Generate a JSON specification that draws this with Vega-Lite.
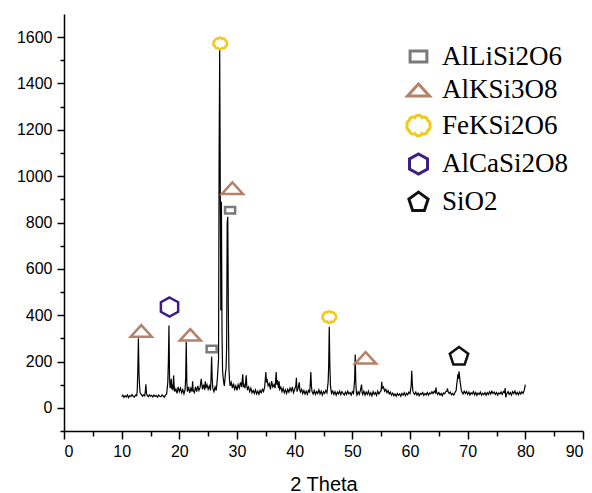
{
  "$schema": "https://vega.github.io/schema/vega-lite/v6.json",
  "width": 519,
  "height": 417,
  "autosize": {"type": "none"},
  "padding": {"left": 64, "top": 14, "right": 9, "bottom": 62},
  "background": "white",
  "config": {
    "view": {"stroke": null},
    "axis": {"grid": false, "domainColor": "black", "tickColor": "black", "labelColor": "black", "titleColor": "black", "labelFont": "Liberation Sans", "titleFont": "Liberation Sans"},
    "legend": {"labelFont": "Liberation Serif", "labelFontSize": 27, "labelColor": "black", "symbolSize": 576, "symbolStrokeWidth": 3, "symbolFillColor": "transparent"}
  },
  "datasets": {
    "pattern": [
      {"t":10.0,"c":48},{"t":10.2,"c":55},{"t":10.4,"c":45},{"t":10.6,"c":52},{"t":10.8,"c":47},{"t":11.0,"c":56},{"t":11.2,"c":44},{"t":11.4,"c":53},{"t":11.6,"c":49},{"t":11.8,"c":57},{"t":12.0,"c":50},{"t":12.2,"c":46},{"t":12.4,"c":55},{"t":12.6,"c":52},{"t":12.7,"c":75},{"t":12.8,"c":160},{"t":12.9,"c":300},{"t":13.0,"c":150},{"t":13.1,"c":95},{"t":13.2,"c":65},{"t":13.4,"c":58},{"t":13.6,"c":50},{"t":13.8,"c":56},{"t":14.0,"c":52},{"t":14.1,"c":70},{"t":14.2,"c":102},{"t":14.3,"c":62},{"t":14.4,"c":55},{"t":14.6,"c":48},{"t":14.8,"c":56},{"t":15.0,"c":50},{"t":15.2,"c":54},{"t":15.4,"c":47},{"t":15.6,"c":55},{"t":15.8,"c":49},{"t":16.0,"c":53},{"t":16.2,"c":46},{"t":16.4,"c":55},{"t":16.6,"c":50},{"t":16.8,"c":48},{"t":17.0,"c":56},{"t":17.2,"c":51},{"t":17.4,"c":46},{"t":17.6,"c":55},{"t":17.8,"c":60},{"t":17.9,"c":85},{"t":18.0,"c":110},{"t":18.1,"c":200},{"t":18.2,"c":355},{"t":18.3,"c":130},{"t":18.4,"c":85},{"t":18.5,"c":95},{"t":18.6,"c":125},{"t":18.7,"c":80},{"t":18.8,"c":100},{"t":18.9,"c":75},{"t":19.0,"c":140},{"t":19.1,"c":95},{"t":19.2,"c":70},{"t":19.4,"c":82},{"t":19.6,"c":62},{"t":19.8,"c":90},{"t":20.0,"c":70},{"t":20.2,"c":85},{"t":20.4,"c":65},{"t":20.6,"c":78},{"t":20.8,"c":60},{"t":21.0,"c":80},{"t":21.1,"c":130},{"t":21.2,"c":285},{"t":21.3,"c":110},{"t":21.4,"c":70},{"t":21.6,"c":90},{"t":21.8,"c":65},{"t":22.0,"c":85},{"t":22.2,"c":70},{"t":22.3,"c":115},{"t":22.4,"c":75},{"t":22.6,"c":65},{"t":22.8,"c":90},{"t":23.0,"c":70},{"t":23.2,"c":95},{"t":23.4,"c":75},{"t":23.6,"c":88},{"t":23.8,"c":125},{"t":24.0,"c":80},{"t":24.2,"c":100},{"t":24.4,"c":78},{"t":24.5,"c":115},{"t":24.6,"c":85},{"t":24.8,"c":100},{"t":25.0,"c":80},{"t":25.2,"c":95},{"t":25.4,"c":75},{"t":25.5,"c":130},{"t":25.6,"c":220},{"t":25.7,"c":125},{"t":25.8,"c":85},{"t":26.0,"c":70},{"t":26.2,"c":90},{"t":26.4,"c":75},{"t":26.5,"c":100},{"t":26.6,"c":130},{"t":26.7,"c":170},{"t":26.8,"c":210},{"t":26.9,"c":1100},{"t":27.0,"c":1545},{"t":27.1,"c":950},{"t":27.2,"c":420},{"t":27.3,"c":890},{"t":27.4,"c":330},{"t":27.5,"c":160},{"t":27.6,"c":130},{"t":27.7,"c":110},{"t":27.8,"c":95},{"t":27.9,"c":120},{"t":28.0,"c":150},{"t":28.1,"c":170},{"t":28.2,"c":260},{"t":28.3,"c":800},{"t":28.4,"c":825},{"t":28.5,"c":420},{"t":28.6,"c":170},{"t":28.7,"c":120},{"t":28.8,"c":95},{"t":29.0,"c":110},{"t":29.2,"c":85},{"t":29.4,"c":105},{"t":29.6,"c":80},{"t":29.8,"c":95},{"t":30.0,"c":75},{"t":30.2,"c":100},{"t":30.4,"c":85},{"t":30.6,"c":110},{"t":30.8,"c":90},{"t":31.0,"c":145},{"t":31.1,"c":95},{"t":31.2,"c":100},{"t":31.4,"c":85},{"t":31.6,"c":140},{"t":31.7,"c":95},{"t":31.8,"c":80},{"t":32.0,"c":90},{"t":32.2,"c":70},{"t":32.4,"c":85},{"t":32.6,"c":65},{"t":32.8,"c":75},{"t":33.0,"c":62},{"t":33.2,"c":78},{"t":33.4,"c":60},{"t":33.6,"c":72},{"t":33.8,"c":58},{"t":34.0,"c":75},{"t":34.2,"c":65},{"t":34.4,"c":80},{"t":34.6,"c":70},{"t":34.8,"c":90},{"t":35.0,"c":155},{"t":35.1,"c":110},{"t":35.2,"c":125},{"t":35.4,"c":95},{"t":35.6,"c":105},{"t":35.8,"c":80},{"t":36.0,"c":115},{"t":36.2,"c":90},{"t":36.4,"c":100},{"t":36.6,"c":85},{"t":36.8,"c":155},{"t":36.9,"c":100},{"t":37.0,"c":120},{"t":37.2,"c":85},{"t":37.3,"c":115},{"t":37.4,"c":80},{"t":37.6,"c":90},{"t":37.8,"c":70},{"t":38.0,"c":85},{"t":38.2,"c":65},{"t":38.4,"c":78},{"t":38.6,"c":62},{"t":38.8,"c":80},{"t":39.0,"c":68},{"t":39.2,"c":85},{"t":39.4,"c":72},{"t":39.6,"c":90},{"t":39.8,"c":65},{"t":40.0,"c":80},{"t":40.2,"c":95},{"t":40.3,"c":130},{"t":40.4,"c":70},{"t":40.6,"c":85},{"t":40.8,"c":110},{"t":40.9,"c":75},{"t":41.0,"c":68},{"t":41.2,"c":80},{"t":41.4,"c":62},{"t":41.6,"c":75},{"t":41.8,"c":60},{"t":42.0,"c":72},{"t":42.2,"c":58},{"t":42.4,"c":75},{"t":42.6,"c":68},{"t":42.7,"c":100},{"t":42.8,"c":155},{"t":42.9,"c":95},{"t":43.0,"c":72},{"t":43.2,"c":60},{"t":43.4,"c":75},{"t":43.6,"c":58},{"t":43.8,"c":70},{"t":44.0,"c":62},{"t":44.2,"c":78},{"t":44.4,"c":60},{"t":44.6,"c":72},{"t":44.8,"c":55},{"t":45.0,"c":70},{"t":45.2,"c":62},{"t":45.4,"c":75},{"t":45.6,"c":65},{"t":45.8,"c":110},{"t":45.9,"c":180},{"t":46.0,"c":350},{"t":46.1,"c":185},{"t":46.2,"c":100},{"t":46.3,"c":75},{"t":46.4,"c":62},{"t":46.6,"c":72},{"t":46.8,"c":58},{"t":47.0,"c":70},{"t":47.2,"c":55},{"t":47.4,"c":68},{"t":47.6,"c":60},{"t":47.8,"c":72},{"t":48.0,"c":57},{"t":48.2,"c":70},{"t":48.4,"c":62},{"t":48.6,"c":55},{"t":48.8,"c":68},{"t":49.0,"c":58},{"t":49.2,"c":72},{"t":49.4,"c":60},{"t":49.6,"c":66},{"t":49.8,"c":55},{"t":50.0,"c":70},{"t":50.2,"c":62},{"t":50.4,"c":120},{"t":50.5,"c":230},{"t":50.6,"c":110},{"t":50.7,"c":65},{"t":50.8,"c":55},{"t":51.0,"c":70},{"t":51.2,"c":58},{"t":51.4,"c":75},{"t":51.6,"c":100},{"t":51.7,"c":65},{"t":51.8,"c":58},{"t":52.0,"c":72},{"t":52.2,"c":55},{"t":52.4,"c":68},{"t":52.6,"c":58},{"t":52.8,"c":72},{"t":53.0,"c":55},{"t":53.2,"c":65},{"t":53.4,"c":52},{"t":53.6,"c":70},{"t":53.8,"c":58},{"t":54.0,"c":66},{"t":54.2,"c":54},{"t":54.4,"c":72},{"t":54.6,"c":60},{"t":54.8,"c":68},{"t":55.0,"c":75},{"t":55.1,"c":112},{"t":55.2,"c":85},{"t":55.4,"c":90},{"t":55.6,"c":72},{"t":55.8,"c":80},{"t":56.0,"c":65},{"t":56.2,"c":75},{"t":56.4,"c":60},{"t":56.6,"c":68},{"t":56.8,"c":55},{"t":57.0,"c":64},{"t":57.2,"c":52},{"t":57.4,"c":60},{"t":57.6,"c":50},{"t":57.8,"c":62},{"t":58.0,"c":54},{"t":58.2,"c":60},{"t":58.4,"c":50},{"t":58.6,"c":62},{"t":58.8,"c":55},{"t":59.0,"c":65},{"t":59.2,"c":52},{"t":59.4,"c":63},{"t":59.6,"c":56},{"t":59.8,"c":68},{"t":60.0,"c":62},{"t":60.2,"c":95},{"t":60.3,"c":160},{"t":60.4,"c":105},{"t":60.5,"c":72},{"t":60.6,"c":65},{"t":60.8,"c":58},{"t":61.0,"c":68},{"t":61.2,"c":55},{"t":61.4,"c":64},{"t":61.6,"c":52},{"t":61.8,"c":62},{"t":62.0,"c":58},{"t":62.2,"c":66},{"t":62.4,"c":54},{"t":62.6,"c":62},{"t":62.8,"c":56},{"t":63.0,"c":66},{"t":63.2,"c":55},{"t":63.4,"c":64},{"t":63.6,"c":60},{"t":63.8,"c":70},{"t":64.0,"c":62},{"t":64.2,"c":72},{"t":64.4,"c":65},{"t":64.5,"c":88},{"t":64.6,"c":68},{"t":64.8,"c":58},{"t":65.0,"c":66},{"t":65.2,"c":55},{"t":65.4,"c":62},{"t":65.6,"c":52},{"t":65.8,"c":64},{"t":66.0,"c":60},{"t":66.2,"c":70},{"t":66.4,"c":72},{"t":66.5,"c":84},{"t":66.6,"c":70},{"t":66.8,"c":62},{"t":67.0,"c":68},{"t":67.2,"c":56},{"t":67.4,"c":62},{"t":67.6,"c":55},{"t":67.8,"c":66},{"t":68.0,"c":75},{"t":68.1,"c":100},{"t":68.2,"c":120},{"t":68.3,"c":145},{"t":68.4,"c":125},{"t":68.5,"c":158},{"t":68.6,"c":135},{"t":68.7,"c":110},{"t":68.8,"c":95},{"t":68.9,"c":75},{"t":69.0,"c":68},{"t":69.2,"c":60},{"t":69.4,"c":72},{"t":69.6,"c":62},{"t":69.8,"c":70},{"t":70.0,"c":58},{"t":70.2,"c":68},{"t":70.4,"c":55},{"t":70.6,"c":65},{"t":70.8,"c":60},{"t":71.0,"c":70},{"t":71.2,"c":56},{"t":71.4,"c":66},{"t":71.6,"c":54},{"t":71.8,"c":64},{"t":72.0,"c":58},{"t":72.2,"c":68},{"t":72.4,"c":55},{"t":72.6,"c":63},{"t":72.8,"c":57},{"t":73.0,"c":66},{"t":73.2,"c":54},{"t":73.4,"c":65},{"t":73.6,"c":58},{"t":73.8,"c":70},{"t":74.0,"c":60},{"t":74.2,"c":72},{"t":74.4,"c":62},{"t":74.6,"c":68},{"t":74.8,"c":58},{"t":75.0,"c":66},{"t":75.2,"c":55},{"t":75.4,"c":64},{"t":75.6,"c":60},{"t":75.8,"c":68},{"t":76.0,"c":58},{"t":76.2,"c":70},{"t":76.4,"c":65},{"t":76.5,"c":85},{"t":76.6,"c":45},{"t":76.8,"c":62},{"t":77.0,"c":70},{"t":77.2,"c":58},{"t":77.4,"c":66},{"t":77.6,"c":55},{"t":77.8,"c":70},{"t":78.0,"c":62},{"t":78.2,"c":72},{"t":78.4,"c":58},{"t":78.6,"c":66},{"t":78.8,"c":56},{"t":79.0,"c":68},{"t":79.2,"c":60},{"t":79.4,"c":70},{"t":79.6,"c":62},{"t":79.8,"c":75},{"t":80.0,"c":100}
    ],
    "markers": [
      {"phase":"AlLiSi2O6","t":28.8,"c":853},
      {"phase":"AlLiSi2O6","t":25.6,"c":254},
      {"phase":"AlKSi3O8","t":13.4,"c":332},
      {"phase":"AlKSi3O8","t":21.9,"c":315},
      {"phase":"AlKSi3O8","t":29.2,"c":948},
      {"phase":"AlKSi3O8","t":52.3,"c":216},
      {"phase":"FeKSi2O6","t":27.1,"c":1573},
      {"phase":"FeKSi2O6","t":46.0,"c":392},
      {"phase":"AlCaSi2O8","t":18.3,"c":435},
      {"phase":"SiO2","t":68.5,"c":224}
    ]
  },
  "resolve": {"axis": {"x": "independent", "y": "independent"}},
  "layer": [
    {
      "data": {"name": "pattern"},
      "mark": {"type": "line", "color": "black", "strokeWidth": 1.2, "interpolate": "linear"},
      "encoding": {
        "x": {"field": "t", "type": "quantitative", "scale": {"domain": [0, 90], "nice": false, "zero": false},
          "axis": {"orient": "bottom", "values": [0,10,20,30,40,50,60,70,80,90], "format": "d", "tickSize": 8, "tickWidth": 1.5, "domainWidth": 1.5, "labelFontSize": 16, "labelPadding": 4, "title": "2 Theta", "titleFontSize": 20, "titleFontWeight": "normal", "titlePadding": 15}},
        "y": {"field": "c", "type": "quantitative", "scale": {"domain": [-100, 1700], "nice": false, "zero": false},
          "axis": {"orient": "left", "values": [0,200,400,600,800,1000,1200,1400,1600], "format": "d", "tickSize": 7, "tickWidth": 1.5, "domainWidth": 1.5, "labelFontSize": 16, "labelPadding": 5, "title": null}}
      }
    },
    {
      "data": {"name": "markers"},
      "transform": [{"filter": {"field": "phase", "oneOf": ["AlKSi3O8", "AlCaSi2O8", "SiO2"]}}],
      "mark": {"type": "point", "filled": false, "strokeWidth": 2.5, "opacity": 1, "size": 530},
      "encoding": {
        "x": {"field": "t", "type": "quantitative", "scale": {"domain": [0, 90], "nice": false, "zero": false},
          "axis": {"orient": "bottom", "values": [5,15,25,35,45,55,65,75,85], "tickSize": 5, "tickWidth": 1.5, "labels": false, "domain": false, "title": null}},
        "y": {"field": "c", "type": "quantitative", "scale": {"domain": [-100, 1700], "nice": false, "zero": false},
          "axis": {"orient": "left", "values": [-100,100,300,500,700,900,1100,1300,1500], "tickSize": 4, "tickWidth": 1.5, "labels": false, "domain": false, "title": null}},
        "color": {"field": "phase", "type": "nominal",
          "scale": {"domain": ["AlLiSi2O6","AlKSi3O8","FeKSi2O6","AlCaSi2O8","SiO2"], "range": ["#7a7a7a","#b4826a","#f2c91e","#3e1f7f","#111111"]},
          "legend": {"title": null, "orient": "none", "legendX": 341, "legendY": 29, "padding": 0, "rowPadding": 5.5, "symbolSize": 576, "labelOffset": 10, "labelLimit": 300}},
        "shape": {"field": "phase", "type": "nominal",
          "scale": {"domain": ["AlLiSi2O6","AlKSi3O8","FeKSi2O6","AlCaSi2O8","SiO2"], "range": [
            "M-0.7,-0.45H0.7V0.45H-0.7Z",
            "M0,-0.5L0.917,0.5L-0.917,0.5Z",
            "M-0.95,0A0.32,0.32 0 0 1 -0.77,-0.41A0.32,0.32 0 0 1 -0.29,-0.67A0.32,0.32 0 0 1 0.29,-0.67A0.32,0.32 0 0 1 0.77,-0.41A0.32,0.32 0 0 1 0.95,0A0.32,0.32 0 0 1 0.77,0.41A0.32,0.32 0 0 1 0.29,0.67A0.32,0.32 0 0 1 -0.29,0.67A0.32,0.32 0 0 1 -0.77,0.41A0.32,0.32 0 0 1 -0.95,0Z",
            "M0,-0.833L0.75,-0.417L0.75,0.417L0,0.833L-0.75,0.417L-0.75,-0.417Z",
            "M0,-0.78L0.8,-0.2L0.49,0.74L-0.49,0.74L-0.8,-0.2Z"
          ]},
          "legend": {"title": null, "orient": "none", "legendX": 341, "legendY": 29, "padding": 0, "rowPadding": 5.5, "symbolSize": 576, "labelOffset": 10, "labelLimit": 300}}
      }
    },
    {
      "data": {"name": "markers"},
      "transform": [{"filter": {"field": "phase", "equal": "AlLiSi2O6"}}],
      "mark": {"type": "point", "filled": false, "strokeWidth": 2.5, "opacity": 1, "size": 205},
      "encoding": {
        "x": {"field": "t", "type": "quantitative", "scale": {"domain": [0, 90], "nice": false, "zero": false}, "axis": null},
        "y": {"field": "c", "type": "quantitative", "scale": {"domain": [-100, 1700], "nice": false, "zero": false}, "axis": null},
        "color": {"field": "phase", "type": "nominal",
          "scale": {"domain": ["AlLiSi2O6","AlKSi3O8","FeKSi2O6","AlCaSi2O8","SiO2"], "range": ["#7a7a7a","#b4826a","#f2c91e","#3e1f7f","#111111"]},
          "legend": {"title": null, "orient": "none", "legendX": 341, "legendY": 29, "padding": 0, "rowPadding": 5.5, "symbolSize": 576, "labelOffset": 10, "labelLimit": 300}},
        "shape": {"field": "phase", "type": "nominal",
          "scale": {"domain": ["AlLiSi2O6","AlKSi3O8","FeKSi2O6","AlCaSi2O8","SiO2"], "range": [
            "M-0.7,-0.45H0.7V0.45H-0.7Z",
            "M0,-0.5L0.917,0.5L-0.917,0.5Z",
            "M-0.95,0A0.32,0.32 0 0 1 -0.77,-0.41A0.32,0.32 0 0 1 -0.29,-0.67A0.32,0.32 0 0 1 0.29,-0.67A0.32,0.32 0 0 1 0.77,-0.41A0.32,0.32 0 0 1 0.95,0A0.32,0.32 0 0 1 0.77,0.41A0.32,0.32 0 0 1 0.29,0.67A0.32,0.32 0 0 1 -0.29,0.67A0.32,0.32 0 0 1 -0.77,0.41A0.32,0.32 0 0 1 -0.95,0Z",
            "M0,-0.833L0.75,-0.417L0.75,0.417L0,0.833L-0.75,0.417L-0.75,-0.417Z",
            "M0,-0.78L0.8,-0.2L0.49,0.74L-0.49,0.74L-0.8,-0.2Z"
          ]},
          "legend": {"title": null, "orient": "none", "legendX": 341, "legendY": 29, "padding": 0, "rowPadding": 5.5, "symbolSize": 576, "labelOffset": 10, "labelLimit": 300}}
      }
    },
    {
      "data": {"name": "markers"},
      "transform": [{"filter": {"field": "phase", "equal": "FeKSi2O6"}}],
      "mark": {"type": "point", "filled": false, "strokeWidth": 2.5, "opacity": 1, "size": 190},
      "encoding": {
        "x": {"field": "t", "type": "quantitative", "scale": {"domain": [0, 90], "nice": false, "zero": false}, "axis": null},
        "y": {"field": "c", "type": "quantitative", "scale": {"domain": [-100, 1700], "nice": false, "zero": false}, "axis": null},
        "color": {"field": "phase", "type": "nominal",
          "scale": {"domain": ["AlLiSi2O6","AlKSi3O8","FeKSi2O6","AlCaSi2O8","SiO2"], "range": ["#7a7a7a","#b4826a","#f2c91e","#3e1f7f","#111111"]},
          "legend": {"title": null, "orient": "none", "legendX": 341, "legendY": 29, "padding": 0, "rowPadding": 5.5, "symbolSize": 576, "labelOffset": 10, "labelLimit": 300}},
        "shape": {"field": "phase", "type": "nominal",
          "scale": {"domain": ["AlLiSi2O6","AlKSi3O8","FeKSi2O6","AlCaSi2O8","SiO2"], "range": [
            "M-0.7,-0.45H0.7V0.45H-0.7Z",
            "M0,-0.5L0.917,0.5L-0.917,0.5Z",
            "M-0.95,0A0.32,0.32 0 0 1 -0.77,-0.41A0.32,0.32 0 0 1 -0.29,-0.67A0.32,0.32 0 0 1 0.29,-0.67A0.32,0.32 0 0 1 0.77,-0.41A0.32,0.32 0 0 1 0.95,0A0.32,0.32 0 0 1 0.77,0.41A0.32,0.32 0 0 1 0.29,0.67A0.32,0.32 0 0 1 -0.29,0.67A0.32,0.32 0 0 1 -0.77,0.41A0.32,0.32 0 0 1 -0.95,0Z",
            "M0,-0.833L0.75,-0.417L0.75,0.417L0,0.833L-0.75,0.417L-0.75,-0.417Z",
            "M0,-0.78L0.8,-0.2L0.49,0.74L-0.49,0.74L-0.8,-0.2Z"
          ]},
          "legend": {"title": null, "orient": "none", "legendX": 341, "legendY": 29, "padding": 0, "rowPadding": 5.5, "symbolSize": 576, "labelOffset": 10, "labelLimit": 300}}
      }
    }
  ]
}
